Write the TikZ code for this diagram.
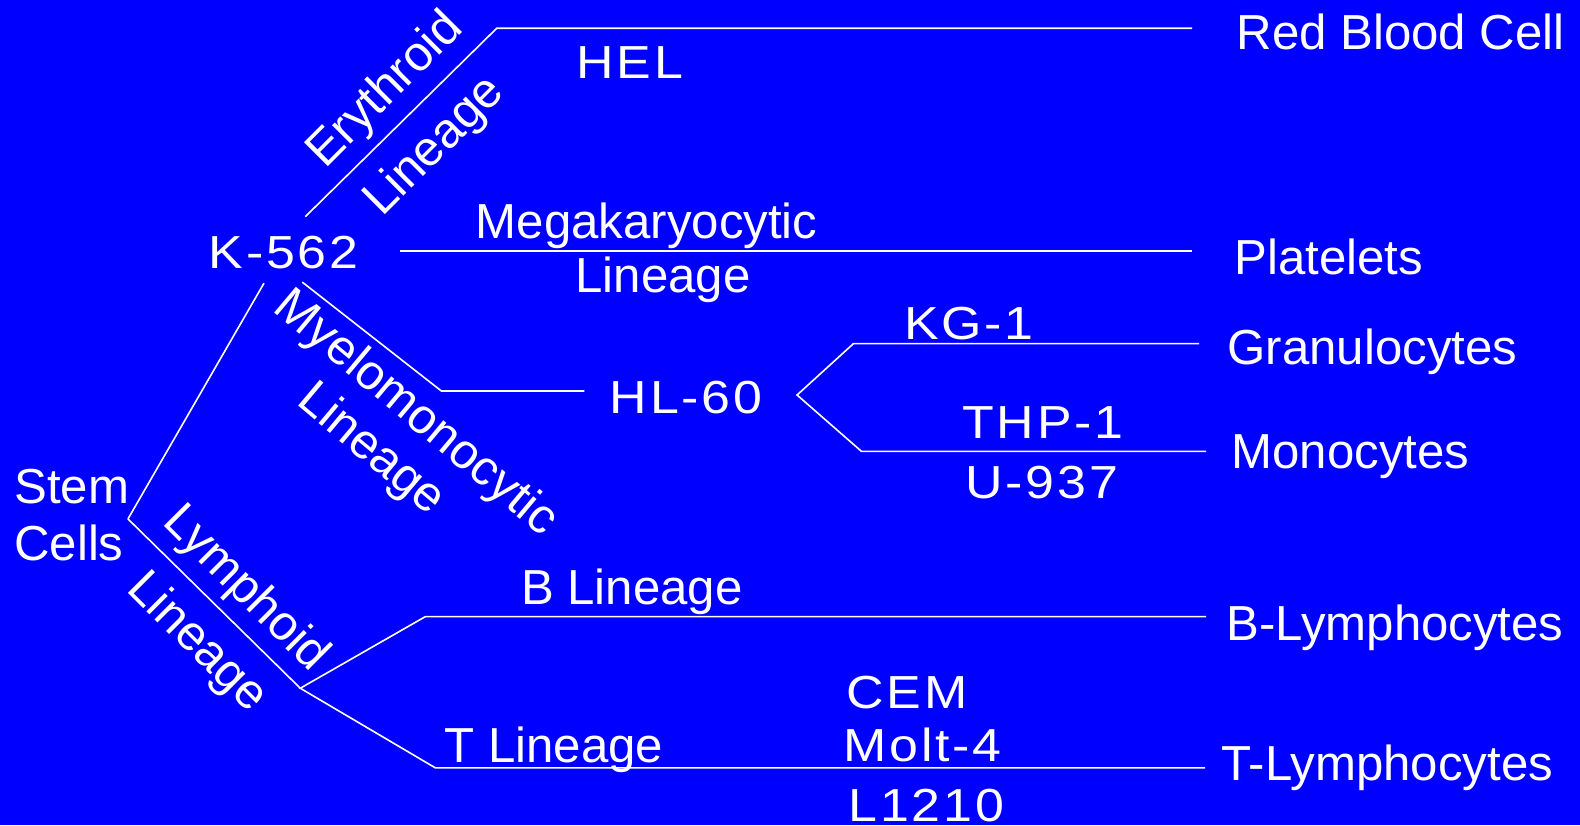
\documentclass[tikz,border=0pt]{standalone}
\usepackage{fontspec}
\setmainfont{Liberation Sans}
\newfontfamily\cellfont[FakeStretch=1.12,LetterSpace=6]{Liberation Sans}
\begin{document}
\begin{tikzpicture}[x=1pt,y=-1pt,
  lbl/.style={text=white, inner sep=0pt, font=\fontsize{48.8}{55}\selectfont},
  cell/.style={text=white, inner sep=0pt, font=\cellfont\fontsize{46}{52}\selectfont},
  link/.style={draw=white, line width=1.6pt, line join=miter}]
\fill[blue] (0,0) rectangle (1568,819);
\useasboundingbox (0,0) rectangle (1568,819);

% labels
\node[lbl, anchor=base west] (stem)  at (14,500) {Stem};
\node[lbl, anchor=base west] (cells) at (14,556) {Cells};
\node[cell, anchor=base west] (k562) at (207,266) {K-562};
\node[cell, anchor=base west] (hel)  at (572,78)  {HEL};
\node[cell, anchor=base west] (hl60) at (605,410) {HL-60};
\node[cell, anchor=base west] (kg1)  at (897,337) {KG-1};
\node[cell, anchor=base west] (thp1) at (955,435) {THP-1};
\node[cell, anchor=base west] (u937) at (958,495) {U-937};
\node[cell, anchor=base west] (cem)  at (840,703) {CEM};
\node[cell, anchor=base west] (molt) at (837,756) {Molt-4};
\node[cell, anchor=base west] (l1210) at (842,815) {L1210};

\node[lbl, anchor=base west] (rbc)   at (1227,49)  {Red Blood Cell};
\node[lbl, anchor=base west] (plt)   at (1225,272) {Platelets};
\node[lbl, anchor=base west] (gran)  at (1218,362) {Granulocytes};
\node[lbl, anchor=base west] (mono)  at (1222,465) {Monocytes};
\node[lbl, anchor=base west] (blym)  at (1217,636) {B-Lymphocytes};
\node[lbl, anchor=base west] (tlym)  at (1212,775) {T-Lymphocytes};

\node[lbl, anchor=base west] (mega)  at (472,237) {Megakaryocytic};
\node[lbl, anchor=base west] (megal) at (571,290) {Lineage};
\node[lbl, anchor=base west] (blin)  at (517,600) {B Lineage};
\node[lbl, anchor=base west] (tlin)  at (441,757) {T Lineage};

% rotated lineage labels
\node[lbl, rotate=45]  (ery)   at (383,90)  {Erythroid};
\node[lbl, rotate=45]  (eryl)  at (432,146) {Lineage};
\node[lbl, rotate=-40] (myel)  at (412,411) {Myelomonocytic};
\node[lbl, rotate=-40] (myell) at (368,447) {Lineage};
\node[lbl, rotate=-45] (lym)   at (243,585) {Lymphoid};
\node[lbl, rotate=-45] (lyml)  at (195,638) {Lineage};

% branch points
\coordinate (s0)  at (127,515);
\coordinate (s1)  at (262,281);
\coordinate (e1)  at (303,215);
\coordinate (e2)  at (493,28);
\coordinate (e3)  at (1183,28);
\coordinate (m1)  at (397,249);
\coordinate (m2)  at (1183,249);
\coordinate (my1) at (300,280);
\coordinate (my2) at (438,388);
\coordinate (my3) at (580,388);
\coordinate (hl)  at (791,392);
\coordinate (g1)  at (847,341);
\coordinate (g2)  at (1190,341);
\coordinate (mo1) at (855,448);
\coordinate (mo2) at (1197,448);
\coordinate (ly)  at (298,683);
\coordinate (b1)  at (422,612);
\coordinate (b2)  at (1197,612);
\coordinate (t1)  at (432,762);
\coordinate (t2)  at (1196,762);

% connectors
\draw[link] (s0) -- (s1);
\draw[link] (e1) -- (e2) -- (e3);
\draw[link] (m1) -- (m2);
\draw[link] (my1) -- (my2) -- (my3);
\draw[link] (g2) -- (g1) -- (hl) -- (mo1) -- (mo2);
\draw[link] (s0) -- (ly);
\draw[link] (b2) -- (b1) -- (ly) -- (t1) -- (t2);
\end{tikzpicture}
\end{document}
